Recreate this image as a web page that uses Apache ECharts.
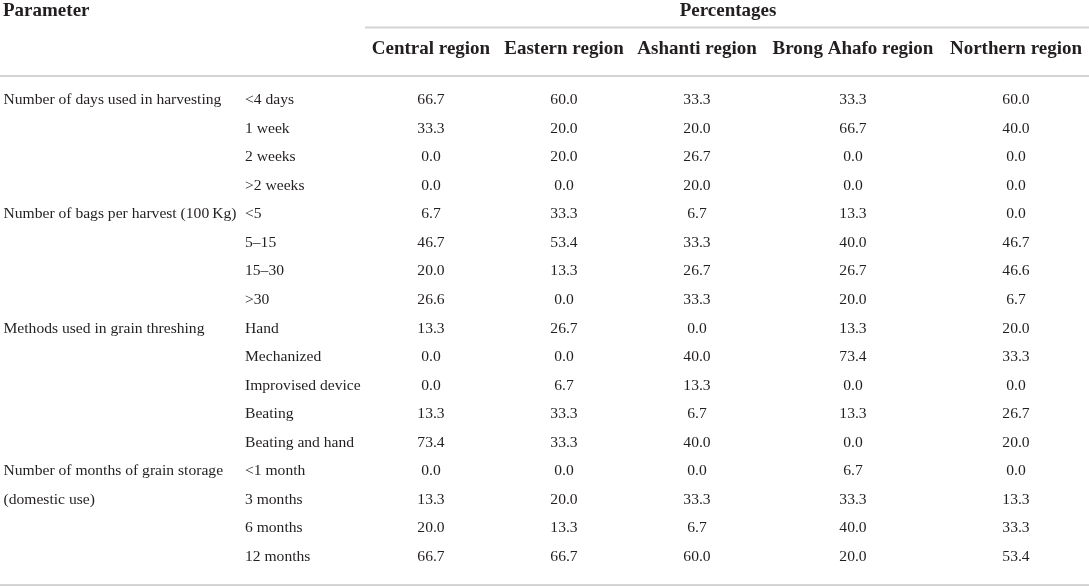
<!DOCTYPE html>
<html><head><meta charset="utf-8">
<script src="https://cdn.jsdelivr.net/npm/echarts@6/dist/echarts.min.js"></script>
<style>html,body{margin:0;padding:0;background:#fff}#c{width:1089px;height:587px}</style>
</head><body><div id="c"></div>
<script>
// ---- data ----
const regions = ['Central region', 'Eastern region', 'Ashanti region', 'Brong Ahafo region', 'Northern region'];
const subLabels = ['<4 days', '1 week', '2 weeks', '>2 weeks', '<5', '5–15', '15–30', '>30', 'Hand', 'Mechanized', 'Improvised device', 'Beating', 'Beating and hand', '<1 month', '3 months', '6 months', '12 months'];
const paramLabels = ['Number of days used in harvesting', 'Number of bags per harvest (100\u2009Kg)', 'Methods used in grain threshing', 'Number of months of grain storage', '(domestic use)'];
const paramRows = [0, 4, 8, 13, 14];
const central  = [66.7, 33.3, 0.0, 0.0, 6.7, 46.7, 20.0, 26.6, 13.3, 0.0, 0.0, 13.3, 73.4, 0.0, 13.3, 20.0, 66.7];
const eastern  = [60.0, 20.0, 20.0, 0.0, 33.3, 53.4, 13.3, 0.0, 26.7, 0.0, 6.7, 33.3, 33.3, 0.0, 20.0, 13.3, 66.7];
const ashanti  = [33.3, 20.0, 26.7, 20.0, 6.7, 33.3, 26.7, 33.3, 0.0, 40.0, 13.3, 6.7, 40.0, 0.0, 33.3, 6.7, 60.0];
const brong    = [33.3, 66.7, 0.0, 0.0, 13.3, 40.0, 26.7, 20.0, 13.3, 73.4, 0.0, 13.3, 0.0, 6.7, 33.3, 40.0, 20.0];
const northern = [60.0, 40.0, 0.0, 0.0, 0.0, 46.7, 46.6, 6.7, 20.0, 33.3, 0.0, 26.7, 20.0, 0.0, 13.3, 33.3, 53.4];
const regionValues = [central, eastern, ashanti, brong, northern];

// ---- layout ----
const FONT = '"Liberation Serif", "DejaVu Serif", serif';
const INK = '#231f20';
const RULE = '#d4d4d4';
const BODY = 15.6;
const HEAD = 19;
const colCenters = [431, 564, 697, 853, 1016];
const colWidth = 120;
const rowH = 28.56;
const bodyTop = 100 - rowH / 2;
const bodyH = rowH * subLabels.length;

const hidden = { show: false };
const clearItem = { color: 'rgba(0,0,0,0)', opacity: 1 };
const grids = [], xAxes = [], yAxes = [], series = [];

function addGrid(left, width) {
  grids.push({ left: left, width: width, top: bodyTop, height: bodyH, outerBoundsMode: 'none', containLabel: false });
  return grids.length - 1;
}
function yAxisFor(gi, showLabels) {
  yAxes.push({
    type: 'category', gridIndex: gi, data: subLabels, inverse: true,
    axisLine: hidden, axisTick: hidden, splitLine: hidden,
    axisLabel: showLabels ? { show: true, inside: true, margin: 0, align: 'left', fontFamily: FONT, fontSize: BODY, color: INK } : hidden
  });
}

// parameter column
const g0 = addGrid(3, 230);
xAxes.push({ type: 'value', gridIndex: g0, min: 0, max: 1, show: false });
yAxisFor(g0, false);
series.push({
  type: 'scatter', xAxisIndex: g0, yAxisIndex: g0, symbolSize: 1,
  itemStyle: clearItem, emphasis: { disabled: true },
  data: paramRows.map((r, i) => [0, r, paramLabels[i]]),
  label: { show: true, position: 'right', distance: 0, opacity: 1, formatter: p => p.data[2], fontFamily: FONT, fontSize: BODY, color: INK }
});

// sub-category column
const g1 = addGrid(245, 110);
xAxes.push({ type: 'category', gridIndex: g1, data: [''], show: false });
yAxisFor(g1, true);

// region columns
regions.forEach((name, k) => {
  const gi = addGrid(colCenters[k] - colWidth / 2, colWidth);
  xAxes.push({
    type: 'category', gridIndex: gi, data: [name], position: 'top',
    axisLine: hidden, axisTick: hidden, splitLine: hidden,
    axisLabel: { show: true, margin: 27, fontFamily: FONT, fontSize: HEAD, fontWeight: 'bold', color: INK }
  });
  yAxisFor(gi, false);
  series.push({
    type: 'scatter', xAxisIndex: gi, yAxisIndex: gi, symbolSize: 1,
    itemStyle: clearItem, emphasis: { disabled: true },
    data: regionValues[k].map((v, r) => [0, r, v]),
    label: { show: true, position: 'inside', opacity: 1, formatter: p => p.data[2].toFixed(1), fontFamily: FONT, fontSize: BODY, color: INK }
  });
});

const chart = echarts.init(document.getElementById('c'), null, { renderer: 'canvas' });
chart.setOption({
  animation: false,
  backgroundColor: '#fff',
  tooltip: { show: false },
  title: [
    { text: 'Parameter', left: 3, top: 2, padding: 0, textStyle: { fontFamily: FONT, fontSize: HEAD, fontWeight: 'bold', color: INK } },
    { text: 'Percentages', left: 728, textAlign: 'center', top: 2, padding: 0, textStyle: { fontFamily: FONT, fontSize: HEAD, fontWeight: 'bold', color: INK } }
  ],
  grid: grids, xAxis: xAxes, yAxis: yAxes, series: series,
  graphic: [
    { type: 'line', silent: true, shape: { x1: 365, y1: 27.5, x2: 1089, y2: 27.5 }, style: { stroke: RULE, lineWidth: 2 } },
    { type: 'line', silent: true, shape: { x1: 0, y1: 76, x2: 1089, y2: 76 }, style: { stroke: RULE, lineWidth: 2 } },
    { type: 'line', silent: true, shape: { x1: 0, y1: 585, x2: 1089, y2: 585 }, style: { stroke: RULE, lineWidth: 2 } }
  ]
});
</script></body></html>
